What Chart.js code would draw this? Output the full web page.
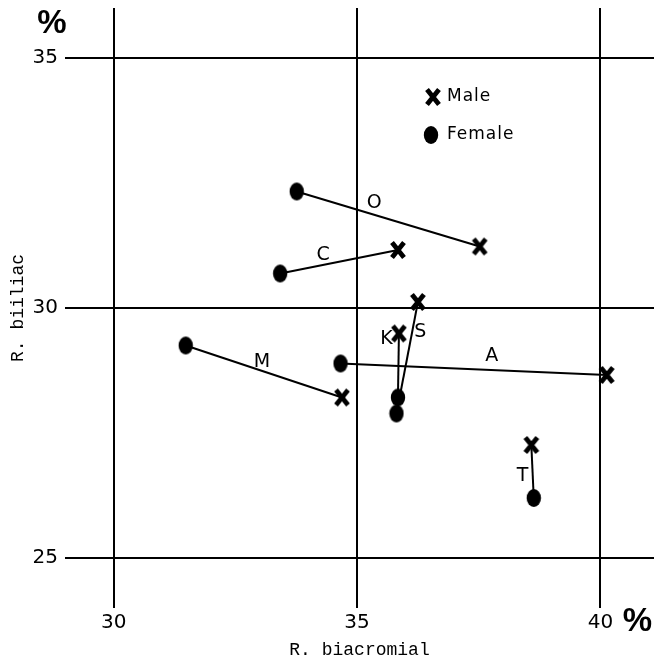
<!DOCTYPE html>
<html>
<head>
<meta charset="utf-8">
<script src="https://cdn.jsdelivr.net/npm/chart.js@4"></script>
<style>
  html, body { margin: 0; padding: 0; background: #fff; }
  canvas { display: block; }
</style>
</head>
<body>
<canvas id="chart" width="654" height="662"></canvas>
<script>
// pairs of male / female values
const pairNames = ['O', 'C', 'M', 'A', 'K', 'S', 'T'];
const maleX   = [37.52, 35.84, 34.69, 40.13, 35.86, 36.25, 38.58];
const maleY   = [31.23, 31.16, 28.21, 28.66, 29.49, 30.12, 27.26];
const femaleX = [33.76, 33.42, 31.48, 34.66, 35.84, 35.81, 38.63];
const femaleY = [32.33, 30.69, 29.25, 28.89, 28.21, 27.89, 26.20];
const xTicks = [30, 35, 40];
const yTicks = [25, 30, 35];
const legendNames = ['Male', 'Female'];

function makeFemaleMark() {
  const c = document.createElement('canvas');
  c.width = 16; c.height = 20;
  const g = c.getContext('2d');
  g.fillStyle = '#000';
  g.beginPath();
  g.ellipse(8, 10, 7.2, 9, 0, 0, Math.PI * 2);
  g.fill();
  return c;
}

function makeMaleMark() {
  const c = document.createElement('canvas');
  c.width = 18; c.height = 20;
  const g = c.getContext('2d');
  g.strokeStyle = '#000';
  g.lineWidth = 4.8;
  g.beginPath();
  g.moveTo(3, 2.5); g.lineTo(15, 17.5);
  g.moveTo(15, 2.5); g.lineTo(3, 17.5);
  g.stroke();
  return c;
}

const femaleMark = makeFemaleMark();
const maleMark = makeMaleMark();

const pairLines = pairNames.map((name, i) => ({
  label: name,
  data: [{ x: maleX[i], y: maleY[i] }, { x: femaleX[i], y: femaleY[i] }],
  showLine: true,
  borderColor: '#000',
  borderWidth: 2,
  pointRadius: 0,
  order: 2
}));

// letter labels, offset in px from the middle of each line
const labelPlugin = {
  id: 'pairLabels',
  afterDatasetsDraw(chart, args, opts) {
    const { ctx, scales } = chart;
    ctx.save();
    ctx.fillStyle = '#000';
    ctx.font = '19px "DejaVu Sans"';
    ctx.textAlign = 'center';
    ctx.textBaseline = 'middle';
    pairNames.forEach((name, i) => {
      const mx = (scales.x.getPixelForValue(maleX[i]) + scales.x.getPixelForValue(femaleX[i])) / 2;
      const my = (scales.y.getPixelForValue(maleY[i]) + scales.y.getPixelForValue(femaleY[i])) / 2;
      const off = opts.offsets[name];
      ctx.fillText(name, mx + off[0], my + off[1]);
    });
    ctx.restore();
  }
};

const extrasPlugin = {
  id: 'extras',
  afterDraw(chart) {
    const { ctx, chartArea, scales } = chart;
    ctx.save();
    ctx.fillStyle = '#000';
    // percent signs
    ctx.font = 'bold 33px "Liberation Sans"';
    ctx.textAlign = 'center';
    ctx.textBaseline = 'middle';
    ctx.fillText('%', chartArea.left - 13, chartArea.top + 16);
    ctx.fillText('%', scales.x.getPixelForValue(40) + 37, chartArea.bottom + 14);
    // legend
    const lx = chartArea.left + 368;
    const ly = chartArea.top + 89;
    ctx.drawImage(maleMark, lx - 9, ly - 10);
    ctx.drawImage(femaleMark, lx - 10, ly + 38 - 10);
    ctx.font = '17px "DejaVu Sans"';
    ctx.letterSpacing = '1px';
    ctx.textAlign = 'left';
    ctx.fillText(legendNames[0], lx + 14, ly);
    ctx.fillText(legendNames[1], lx + 14, ly + 38);
    ctx.restore();
  }
};

new Chart(document.getElementById('chart'), {
  type: 'scatter',
  data: {
    datasets: [
      ...pairLines,
      {
        label: 'Male',
        data: maleX.map((x, i) => ({ x, y: maleY[i] })),
        pointStyle: maleMark,
        order: 0
      },
      {
        label: 'Female',
        data: femaleX.map((x, i) => ({ x, y: femaleY[i] })),
        pointStyle: femaleMark,
        order: 0
      }
    ]
  },
  options: {
    responsive: false,
    animation: false,
    devicePixelRatio: 1,
    layout: { autoPadding: false, padding: { top: 8, left: 0, right: 0, bottom: 0 } },
    plugins: {
      legend: { display: false },
      tooltip: { enabled: false },
      pairLabels: {
        offsets: {
          O: [-14, -16], C: [-16, -7], M: [-2, -9], A: [18, -13],
          K: [-12, -26], S: [13, -26], T: [-10, 5]
        }
      }
    },
    scales: {
      x: {
        type: 'linear',
        min: 29,
        max: 41.1,
        afterBuildTicks: s => { s.ticks = xTicks.map(v => ({ value: v })); },
        afterFit: s => { s.height = 54; s.paddingLeft = 0; s.paddingRight = 0; },
        border: { display: false },
        grid: { color: '#000', lineWidth: 2, drawTicks: false },
        ticks: { color: '#000', padding: 3, font: { family: 'DejaVu Sans', size: 20 } },
        title: {
          display: true,
          text: 'R. biacromial',
          color: '#000',
          padding: 1,
          font: { family: 'Liberation Mono', size: 18 }
        }
      },
      y: {
        type: 'linear',
        min: 24,
        max: 36,
        afterBuildTicks: s => { s.ticks = yTicks.map(v => ({ value: v })); },
        afterFit: s => { s.width = 65; s.paddingTop = 0; s.paddingBottom = 0; },
        border: { display: false },
        grid: { color: '#000', lineWidth: 2, drawTicks: false },
        ticks: { color: '#000', padding: 7, font: { family: 'DejaVu Sans', size: 20 } },
        title: {
          display: true,
          text: 'R. biiliac',
          color: '#000',
          padding: 7,
          font: { family: 'Liberation Mono', size: 18 }
        }
      }
    }
  },
  plugins: [labelPlugin, extrasPlugin]
});
</script>
</body>
</html>
